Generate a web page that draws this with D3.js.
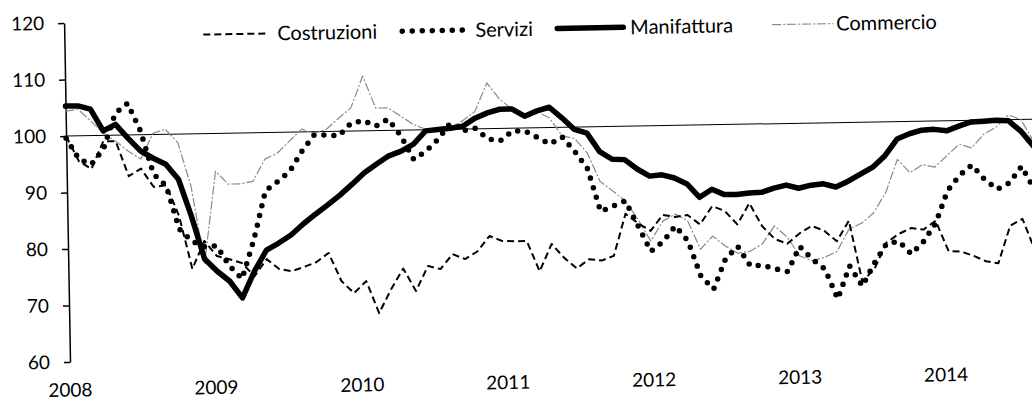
<!DOCTYPE html>
<html>
<head>
<meta charset="utf-8">
<title>Indici per settore</title>
<script src="https://d3js.org/d3.v7.min.js"></script>
<style>
  body { margin: 0; background: #fff; }
  svg { display: block; }
</style>
</head>
<body>
<script>
// monthly values, Jan 2008 onwards
const years = ["2008", "2009", "2010", "2011", "2012", "2013", "2014"]
const yTicks = [60, 70, 80, 90, 100, 110, 120]

const costruzioni = [100.0, 95.5, 94.1, 99.0, 98.9, 92.7, 94.0, 90.7, 91.0, 85.5,
  76.1, 81.0, 78.3, 77.7, 77.0, 74.6, 77.6, 75.8, 75.4, 76.1,
  76.9, 78.5, 73.5, 71.3, 73.4, 67.7, 71.9, 75.5, 71.5, 75.9,
  75.3, 77.9, 77.0, 78.3, 81.0, 80.1, 80.0, 80.0, 74.6, 79.4,
  76.9, 75.0, 76.6, 76.3, 77.1, 84.5, 82.8, 81.4, 84.2, 83.8,
  84.1, 82.4, 85.6, 84.7, 82.3, 86.0, 81.9, 79.6, 78.7, 80.5,
  81.8, 80.9, 79.0, 82.6, 71.8, 74.0, 78.6, 80.1, 81.1, 80.8,
  82.3, 76.9, 76.8, 76.0, 75.0, 74.6, 81.2, 82.4, 76.6]

const servizi = [99.6, 95.9, 94.9, 97.6, 103.9, 105.6, 100.7, 93.0, 90.9, 83.2,
  81.0, 80.0, 80.1, 76.5, 74.2, 81.1, 89.7, 91.3, 93.1, 96.6,
  99.4, 99.4, 99.2, 101.4, 101.8, 100.8, 102.0, 99.0, 94.8, 96.2,
  98.3, 101.1, 99.7, 100.1, 98.2, 97.8, 99.5, 99.5, 98.3, 97.1,
  98.3, 95.7, 92.6, 85.0, 85.9, 86.8, 82.3, 77.8, 79.5, 82.2,
  79.5, 73.2, 70.9, 76.2, 78.4, 74.9, 75.0, 74.3, 73.8, 78.2,
  75.9, 74.1, 68.8, 74.6, 71.0, 75.0, 78.4, 78.8, 76.5, 78.7,
  81.9, 87.6, 90.3, 92.1, 89.5, 87.7, 88.8, 91.7, 87.6]

const manifattura = [105.3, 105.3, 104.7, 100.8, 101.9, 99.4, 97.1, 95.8, 94.7, 92.0,
  85.4, 77.8, 75.6, 73.8, 70.8, 75.5, 79.2, 80.4, 81.8, 83.7,
  85.4, 87.0, 88.7, 90.6, 92.6, 94.1, 95.5, 96.3, 97.5, 99.8,
  100.0, 100.2, 100.5, 101.9, 102.8, 103.4, 103.4, 102.1, 103.0, 103.6,
  101.7, 99.6, 98.9, 95.6, 94.2, 94.1, 92.4, 91.1, 91.3, 90.7,
  89.6, 87.2, 88.6, 87.6, 87.6, 87.8, 87.9, 88.6, 89.1, 88.5,
  89.0, 89.2, 88.6, 89.6, 90.8, 92.0, 94.0, 96.9, 97.8, 98.4,
  98.5, 98.2, 99.0, 99.7, 99.8, 99.9, 99.8, 97.9, 95.2]

const commercio = [104.4, 104.7, 102.6, 100.4, 98.9, 97.1, 95.7, 100.2, 100.9, 98.5,
  90.8, 77.1, 93.3, 91.0, 91.0, 91.4, 95.3, 96.3, 98.4, 100.5,
  99.7, 100.4, 102.3, 104.1, 109.7, 104.0, 104.0, 102.5, 101.0, 100.1,
  99.7, 100.2, 101.5, 103.1, 108.1, 105.2, 103.4, 101.8, 102.9, 101.7,
  98.5, 98.0, 95.4, 90.3, 88.6, 86.8, 83.5, 79.6, 83.1, 84.3,
  83.1, 78.0, 80.3, 78.5, 77.2, 77.5, 78.8, 81.9, 79.9, 76.5,
  75.6, 76.2, 77.2, 81.1, 82.1, 83.9, 87.4, 93.3, 90.9, 92.3,
  91.8, 93.8, 95.8, 95.1, 97.5, 98.7, 100.8, 100.0, 96.1]

const w = 1032, h = 400
const font = "Lato, 'Open Sans', sans-serif"

const x = d3.scaleLinear().domain([0, 78]).range([70, 70 + 78 * 12.4])
const y = d3.scaleLinear().domain([60, 120]).range([362, 23])

const series = [
  {name: "Commercio", values: commercio, stroke: "#8a8a8a", width: 1.2, dash: "9,2,2,2", cap: "butt"},
  {name: "Costruzioni", values: costruzioni, stroke: "#000", width: 2, dash: "7,4", cap: "butt"},
  {name: "Servizi", values: servizi, stroke: "#000", width: 5.5, dash: "0,10", cap: "round"},
  {name: "Manifattura", values: manifattura, stroke: "#000", width: 5.5, dash: null, cap: "round"}
]

const svg = d3.select("body").append("svg")
  .attr("width", w)
  .attr("height", h)

// the scanned page is tilted by about one degree
const g = svg.append("g").attr("transform", "rotate(-1, 70, 362)")

// reference line at 100
g.append("line")
  .attr("x1", x(0)).attr("x2", w + 30)
  .attr("y1", y(100)).attr("y2", y(100))
  .attr("stroke", "#000").attr("stroke-width", 1)

const yAxis = d3.axisLeft(y).tickValues(yTicks).tickSize(6).tickSizeOuter(0).tickPadding(14)
g.append("g")
  .attr("transform", `translate(${x(0)},0)`)
  .call(yAxis)
  .attr("font-family", font)
  .attr("font-size", 19)
  .call(a => a.selectAll("path, line").attr("stroke", "#000").attr("stroke-width", 1.5))
  .call(a => a.selectAll("text").attr("fill", "#000"))

g.selectAll(".year")
  .data(years)
  .join("text")
  .attr("class", "year")
  .attr("x", (d, i) => x(i * 11.77))
  .attr("y", 390)
  .attr("dy", "0.35em")
  .attr("text-anchor", "middle")
  .attr("font-family", font)
  .attr("font-size", 19)
  .text(d => d)

const line = d3.line().x((d, i) => x(i)).y(d => y(d))

g.selectAll(".serie")
  .data(series)
  .join("path")
  .attr("class", "serie")
  .attr("d", d => line(d.values))
  .attr("fill", "none")
  .attr("stroke", d => d.stroke)
  .attr("stroke-width", d => d.width)
  .attr("stroke-dasharray", d => d.dash)
  .attr("stroke-linecap", d => d.cap)
  .attr("stroke-linejoin", "round")

// legend
const legendPos = {Costruzioni: [209, 273, 283], Servizi: [408, 469, 481],
  Manifattura: [563, 629, 636], Commercio: [778, 839, 842]}
const legendOrder = ["Costruzioni", "Servizi", "Manifattura", "Commercio"]
const leg = g.selectAll(".leg")
  .data(legendOrder.map(n => series.find(s => s.name == n)))
  .join("g")
  .attr("class", "leg")

leg.append("line")
  .attr("x1", d => legendPos[d.name][0])
  .attr("x2", d => legendPos[d.name][1])
  .attr("y1", 37).attr("y2", 37)
  .attr("stroke", d => d.stroke)
  .attr("stroke-width", d => d.width)
  .attr("stroke-dasharray", d => d.dash)
  .attr("stroke-linecap", d => d.cap)

leg.append("text")
  .attr("x", d => legendPos[d.name][2])
  .attr("y", 37)
  .attr("dy", "0.35em")
  .attr("font-family", font)
  .attr("font-size", 20)
  .text(d => d.name)
</script>
</body>
</html>
